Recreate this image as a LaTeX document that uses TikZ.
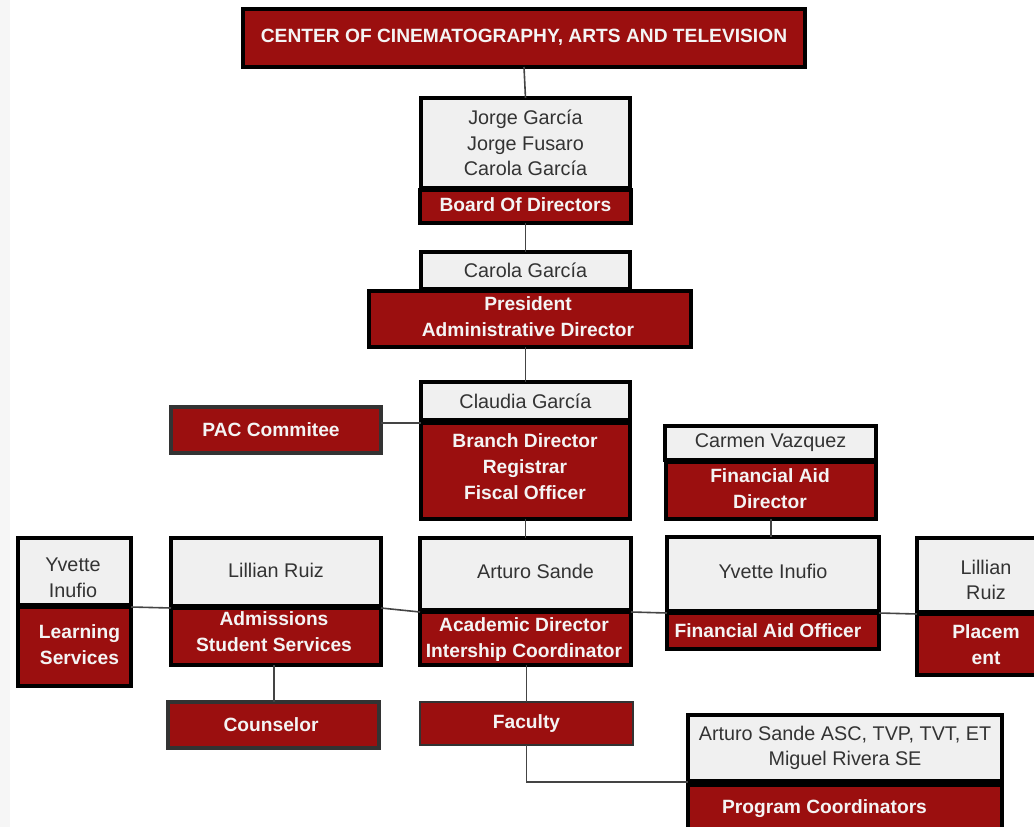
\documentclass[tikz,border=0pt]{standalone}
\usepackage{fontspec}
\setmainfont{Liberation Sans}
\definecolor{cred}{HTML}{9B0F0F}
\definecolor{cgray}{HTML}{F0F0F0}
\definecolor{ctext}{HTML}{333333}
\definecolor{cline}{HTML}{444444}
\definecolor{cwhite}{HTML}{F4F4F4}
\definecolor{cstrip}{HTML}{F6F6F6}
\tikzset{
  base/.style={rectangle, inner sep=0pt, outer sep=0pt, line width=4pt, align=center},
  gbox/.style={base, draw=black, fill=cgray, text=ctext, font=\fontsize{19.8}{25.5}\selectfont},
  rbox/.style={base, draw=black, fill=cred, text=cwhite, font=\bfseries\fontsize{19.2}{26}\selectfont},
  dbox/.style={rbox, draw=black!80},
  rtext/.style={inner sep=0pt, align=center, text=cwhite, font=\bfseries\fontsize{19.2}{26}\selectfont},
  gtext/.style={inner sep=0pt, align=center, text=ctext, font=\fontsize{19.8}{25.5}\selectfont},
  conn/.style={draw=cline, line width=1.6pt},
  sz/.style 2 args={minimum width=#1, minimum height=#2}
}
\begin{document}
\begin{tikzpicture}[x=1pt, y=-1pt]
\useasboundingbox (0,0) rectangle (1034,827);
\fill[cstrip] (0,0) rectangle (10,827);

% top
\node[rbox, sz={562}{58}] (title) at (524,38) {\raisebox{4pt}{CENTER OF CINEMATOGRAPHY, ARTS AND TELEVISION}};
% board
\node[gbox, sz={209}{90}] (boardG) at (525.5,143) {Jorge García\\Jorge Fusaro\\Carola García};
\node[rbox, sz={211}{33}] (boardR) at (525.5,206.5) {\raisebox{4pt}{Board Of Directors}};
% president
\node[gbox, sz={209}{37}] (carolaG) at (525.5,270.5) {Carola García};
\node[rbox, sz={322}{56}] (presR) at (530,319) {};
\node[rtext] (presT) at (528,317) {President\\Administrative Director};
% branch
\node[gbox, sz={209}{38}] (claudiaG) at (525.5,401) {Claudia García};
\node[rbox, sz={209}{96}] (branchR) at (525.5,471) {};
\node[rtext] (branchT) at (525,467) {Branch Director\\Registrar\\Fiscal Officer};
\node[dbox, sz={210}{46}] (pac) at (276,430) {\hspace*{-10pt}\raisebox{1pt}{PAC Commitee}};
% financial aid director
\node[gbox, sz={211}{34}] (carmenG) at (770.5,443) {Carmen Vazquez};
\node[rbox, sz={210}{57}] (fadR) at (771,490.5) {};
\node[rtext] (fadT) at (770,489) {Financial Aid\\Director};

% row
\node[gbox, sz={113}{67}] (yv1G) at (74.5,571.5) {};
\node[gtext] (yv1T) at (73,578) {Yvette\\Inufio};
\node[rbox, sz={113}{79}] (learnR) at (74.5,646.5) {};
\node[rtext] (learnT) at (79.5,645) {Learning\\Services};
\node[gbox, sz={210}{68}] (lilG) at (276,572) {\raisebox{4pt}{Lillian Ruiz}};
\node[rbox, sz={210}{57}] (admR) at (276,636.5) {};
\node[rtext] (admT) at (274,632) {Admissions\\Student Services};
\node[gbox, sz={211}{72}] (arturoG) at (525.5,574) {\hspace*{20pt}\raisebox{6pt}{Arturo Sande}};
\node[rbox, sz={211}{53}] (acadR) at (525.5,638.5) {};
\node[rtext] (acadT) at (524,640) {Academic Director\\Intership Coordinator};
\node[gbox, sz={212}{74}] (yv2G) at (773,574) {\raisebox{6pt}{Yvette Inufio}};
\node[rbox, sz={212}{36}] (faoR) at (773,631) {\hspace*{-10pt}Financial Aid Officer};
\node[gbox, sz={138}{74}] (lil2G) at (986,575) {};
\node[gtext] (lil2T) at (986,580) {Lillian\\Ruiz};
\node[rbox, sz={138}{61}] (placR) at (986,644.5) {};
\node[rtext] (placT) at (986,645) {Placem\\ent};

% bottom
\node[dbox, sz={211}{46}] (counsel) at (273.5,725) {\hspace*{-5pt}\raisebox{1pt}{Counselor}};
\node[rbox, draw=black!80, line width=2.5pt, sz={213}{43}] (faculty) at (526.5,723.5) {\raisebox{-2pt}{Faculty}};
\node[gbox, sz={314}{66}] (progG) at (845,748) {Arturo Sande ASC, TVP, TVT, ET\\Miguel Rivera SE};
\node[rbox, sz={314}{46}] (progR) at (845,808) {};
\node[rtext] (progT) at (824.5,809) {Program Coordinators};

% connectors
\draw[conn] (title.south) -- (boardG.north);
\draw[conn] (boardR.south) -- (carolaG.north);
\draw[conn] (presR.south -| carolaG.north) -- (claudiaG.north);
\draw[conn] (pac.east |- branchR.north west) -- (branchR.north west);
\draw[conn] (fadR.south) -- (yv2G.north -| fadR.south);
\draw[conn] (branchR.south) -- (arturoG.north);
\draw[conn] (learnR.north east) -- (admR.north west);
\draw[conn] (admR.north east) -- (acadR.north west);
\draw[conn] (acadR.north east) -- (faoR.north west);
\draw[conn] (faoR.north east) -- (placR.north west);
\draw[conn] (counsel.north -| admT.south) -- (admR.south -| admT.south);
\draw[conn] (faculty.north) -- (acadR.south -| faculty.north);
\draw[conn] (faculty.south) |- ([yshift=-1pt]progG.south west);
\end{tikzpicture}
\end{document}
